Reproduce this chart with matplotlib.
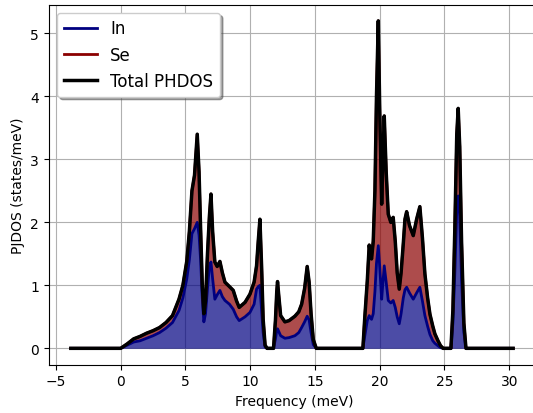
import matplotlib
matplotlib.use("Agg")
import matplotlib.pyplot as plt
import numpy as np

# Phonon frequencies (meV) and projected DOS (states/meV)
freq = [-3.85, 0.0, 0.5, 1.0, 1.5, 2.0, 2.5, 3.0, 3.5, 4.0, 4.5, 4.8, 5.1, 5.3, 5.5,
        5.7, 5.91, 6.05, 6.17, 6.3, 6.42, 6.55, 6.7, 6.85, 6.97, 7.1, 7.27, 7.45,
        7.66, 7.85, 8.05, 8.4, 8.69, 8.95, 9.15, 9.6, 9.98, 10.3, 10.49, 10.62,
        10.75, 10.88, 11.0, 11.15, 11.3, 11.8, 11.95, 12.05, 12.11, 12.2, 12.35,
        12.68, 13.0, 13.45, 13.75, 13.97, 14.2, 14.4, 14.55, 14.7, 14.87, 15.1,
        18.7, 18.85, 19.04, 19.19, 19.3, 19.37, 19.5, 19.63, 19.75, 19.89, 20.0,
        20.15, 20.25, 20.35, 20.5, 20.66, 20.86, 21.04, 21.2, 21.35, 21.51, 21.65,
        21.82, 21.95, 22.08, 22.3, 22.59, 22.85, 23.1, 23.3, 23.49, 23.7, 23.88,
        24.1, 24.26, 24.5, 24.7, 24.9, 25.5, 25.65, 25.8, 25.95, 26.06, 26.18,
        26.32, 26.5, 26.66, 30.3]

pdos_in = [0, 0, 0.05, 0.10, 0.12, 0.16, 0.20, 0.25, 0.32, 0.41, 0.60, 0.80, 1.10,
           1.40, 1.82, 1.90, 2.00, 1.80, 1.40, 0.80, 0.42, 0.55, 0.95, 1.30, 1.37,
           1.10, 0.78, 0.85, 0.92, 0.82, 0.76, 0.70, 0.62, 0.50, 0.44, 0.50, 0.57,
           0.70, 0.94, 0.98, 1.00, 0.60, 0.25, 0.02, 0, 0, 0.15, 0.28, 0.31, 0.27,
           0.20, 0.16, 0.17, 0.20, 0.25, 0.33, 0.42, 0.51, 0.45, 0.25, 0.06, 0,
           0, 0.20, 0.44, 0.52, 0.48, 0.46, 0.55, 0.90, 1.35, 1.63, 1.30,
           0.78, 1.05, 1.31, 1.05, 0.76, 0.72, 0.76, 0.65, 0.50, 0.39, 0.55,
           0.80, 0.93, 0.97, 0.88, 0.78, 0.88, 0.97, 0.75, 0.52, 0.35, 0.22,
           0.12, 0.08, 0.04, 0.01, 0, 0, 0.40, 1.20, 2.20, 2.42, 2.10,
           1.10, 0.25, 0, 0]

pdos_total = [0, 0, 0.07, 0.15, 0.19, 0.24, 0.28, 0.33, 0.41, 0.52, 0.78, 1.00, 1.38,
              1.85, 2.50, 2.75, 3.40, 2.80, 1.90, 1.00, 0.55, 0.75, 1.50, 2.10, 2.45,
              1.85, 1.37, 1.30, 1.38, 1.20, 1.05, 0.98, 0.92, 0.75, 0.65, 0.73, 0.86,
              1.05, 1.31, 1.70, 2.05, 1.30, 0.46, 0.05, 0, 0, 0.45, 0.90, 1.06, 0.85,
              0.52, 0.42, 0.44, 0.51, 0.58, 0.70, 0.95, 1.30, 1.05, 0.55, 0.14, 0,
              0, 0.50, 1.07, 1.64, 1.48, 1.42, 1.70, 2.50, 4.00, 5.20, 3.80,
              2.29, 3.00, 3.69, 2.80, 2.13, 2.00, 2.08, 1.70, 1.20, 0.94, 1.20,
              1.66, 2.05, 2.17, 1.95, 1.79, 2.05, 2.25, 1.75, 1.18, 0.80, 0.54,
              0.35, 0.23, 0.12, 0.04, 0, 0, 0.60, 1.90, 3.40, 3.81, 3.20,
              1.70, 0.40, 0, 0]

freq = np.array(freq)
pdos_in = np.array(pdos_in)
pdos_se = np.array(pdos_total) - pdos_in
total = pdos_in + pdos_se

fig = plt.figure(figsize=(5.33, 4.14), dpi=100)
ax = fig.add_axes([48.7 / 533, 48.3 / 414, 490.3 / 533, 360.2 / 414])

ax.fill_between(freq, 0, pdos_in, color="navy", alpha=0.7, linewidth=0)
ax.fill_between(freq, pdos_in, total, color="darkred", alpha=0.7, linewidth=0)
ax.plot(freq, pdos_in, color="navy", linewidth=2, label="In",
        solid_joinstyle="round")
ax.plot(freq, total, color="darkred", linewidth=2, label="Se",
        solid_joinstyle="round")
ax.plot(freq, total, color="black", linewidth=2.5, label="Total PHDOS",
        solid_joinstyle="round")

ax.set_xlim(-5.56, 32.3)
ax.set_xlabel("Frequency (meV)")
ax.set_ylabel("PJDOS (states/meV)")
ax.grid(True)
ax.set_axisbelow(True)
ax.legend(loc="upper left", fontsize=12, shadow=True, fancybox=True)

fig.savefig("out.png", dpi=100)
